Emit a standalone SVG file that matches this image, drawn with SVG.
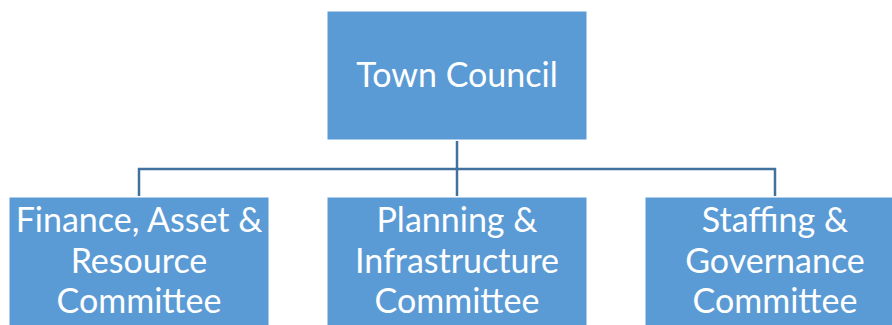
<svg xmlns="http://www.w3.org/2000/svg" width="892" height="325" viewBox="0 0 892 325">
<style>
.box{fill:#5B9BD5;stroke:#FFFFFF;stroke-width:1}
.lbl{font-family:Lato,"Open Sans","Liberation Sans",sans-serif;font-size:34px;fill:#FFFFFF;text-anchor:middle}
.conn{stroke:#41719C;stroke-width:2.5;fill:none}
</style>
<rect width="892" height="325" fill="#FFFFFF"/>
<g id="connectors">
<path class="conn" d="M457 141 V196"/>
<path class="conn" d="M139 196 V169 H775 V196"/>
</g>
<g id="town-council">
<rect class="box" x="327" y="11" width="260" height="129"/>
<text class="lbl" x="457" y="87">Town Council</text>
</g>
<g id="finance">
<rect class="box" x="9" y="197" width="260" height="129"/>
<text class="lbl" x="139" y="232">Finance, Asset &amp;</text>
<text class="lbl" x="139" y="273">Resource</text>
<text class="lbl" x="139" y="313">Committee</text>
</g>
<g id="planning">
<rect class="box" x="327" y="197" width="260" height="129"/>
<text class="lbl" x="457" y="232">Planning &amp;</text>
<text class="lbl" x="457" y="273">Infrastructure</text>
<text class="lbl" x="457" y="313">Committee</text>
</g>
<g id="staffing">
<rect class="box" x="645" y="197" width="260" height="129"/>
<text class="lbl" x="775" y="232">Staffing &amp;</text>
<text class="lbl" x="775" y="273">Governance</text>
<text class="lbl" x="775" y="313">Committee</text>
</g>
</svg>
